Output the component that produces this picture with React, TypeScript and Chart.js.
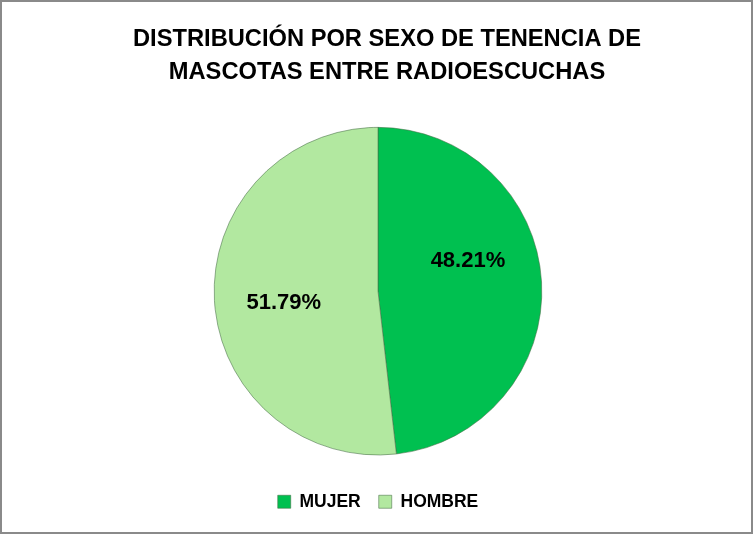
import React, { useEffect, useRef } from "react";
import { Chart, registerables } from "chart.js";

Chart.register(...registerables);

const categories = ["MUJER", "HOMBRE"];
const values = [48.21, 51.79];
const valueLabels = ["48.21%", "51.79%"];
const colors = ["#00C050", "#B2E8A0"];
const titleLines = ["DISTRIBUCIÓN POR SEXO DE TENENCIA DE", "MASCOTAS ENTRE RADIOESCUCHAS"];

const FONT = "'Liberation Sans', Arial, sans-serif";

const frame = {
  id: "frame",
  beforeDraw(chart: any) {
    const { ctx, width, height } = chart;
    ctx.save();
    ctx.fillStyle = "#ffffff";
    ctx.fillRect(0, 0, width, height);
    ctx.strokeStyle = "#8a8a8a";
    ctx.lineWidth = 2;
    ctx.strokeRect(1, 1, width - 2, height - 2);
    ctx.restore();
  },
};

const titleShift = {
  id: "titleShift",
  afterLayout(chart: any) {
    const tb = chart.titleBlock;
    if (tb) tb.left += 18;
  },
};

const sliceLabels = {
  id: "sliceLabels",
  afterDatasetsDraw(chart: any) {
    const { ctx } = chart;
    const meta = chart.getDatasetMeta(0);
    ctx.save();
    ctx.font = `bold 22px ${FONT}`;
    ctx.fillStyle = "#000000";
    ctx.textAlign = "center";
    ctx.textBaseline = "middle";
    const shifts = [-0.272, -0.07];
    meta.data.forEach((arc: any, i: number) => {
      const p = arc.getProps(["x", "y", "startAngle", "endAngle", "outerRadius"], true);
      const mid = (p.startAngle + p.endAngle) / 2 + shifts[i];
      const r = p.outerRadius * 0.58;
      ctx.fillText(valueLabels[i], p.x + Math.cos(mid) * r, p.y + Math.sin(mid) * r);
    });
    ctx.restore();
  },
};

export default function App() {
  const ref = useRef<HTMLCanvasElement | null>(null);
  useEffect(() => {
    document.body.style.margin = "0";
    if (!ref.current) return;
    const chart = new Chart(ref.current, {
      type: "pie",
      data: {
        labels: categories,
        datasets: [
          {
            data: values,
            backgroundColor: colors,
            borderColor: "rgba(70,110,70,0.55)",
            borderWidth: 1,
          },
        ],
      },
      options: {
        animation: false,
        responsive: false,
        devicePixelRatio: 1,
        layout: { padding: { top: 0, bottom: 13.5, left: 3, right: 0 } },
        plugins: {
          title: {
            display: true,
            text: titleLines,
            color: "#000000",
            font: { family: FONT, size: 23.7, weight: "bold", lineHeight: 1.4 },
            padding: { top: 23, bottom: 37.5 },
          },
          legend: {
            display: true,
            position: "bottom",
            title: {
              display: true,
              text: "",
              font: { size: 1, lineHeight: 1.2 },
              padding: { top: 18.3, bottom: 0 },
            },
            labels: {
              color: "#000000",
              font: { family: FONT, size: 17.5, weight: "bold" },
              boxWidth: 13,
              boxHeight: 13,
              padding: 18,
            },
          },
          tooltip: { enabled: false },
        },
      },
      plugins: [frame, titleShift, sliceLabels],
    });
    return () => chart.destroy();
  }, []);
  return <canvas ref={ref} width={753} height={534} style={{ display: "block" }} />;
}
